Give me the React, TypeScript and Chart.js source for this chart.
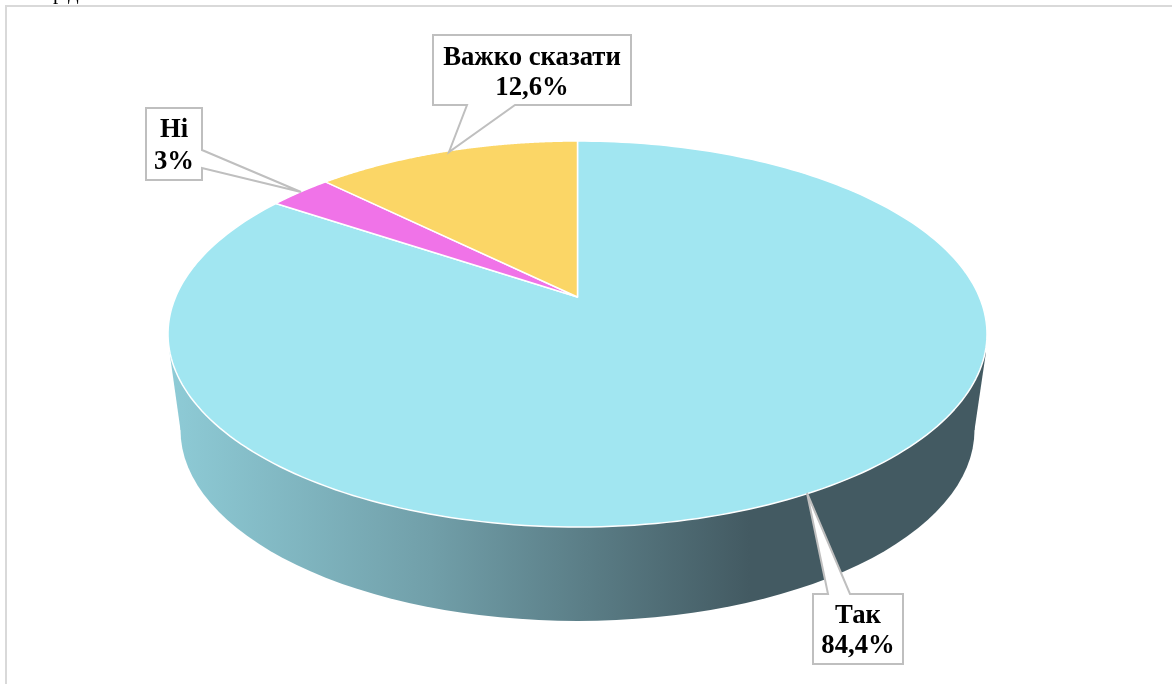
import React, { useEffect, useRef } from "react";
import { Chart, registerables } from "chart.js";

Chart.register(...registerables);

const categories = ["Так", "Ні", "Важко сказати"];
const values = [84.4, 3, 12.6];
const colors = ["#a1e6f1", "#f073e8", "#fbd666"];

// Perspective projection of the pie's plane onto the page
const APEX_X = 577.5;
const APEX_Y = 297;
const SCALE_X = 401.9;
const SCALE_Y = 185.9;
const TILT = -0.1917;

const project = (angle: number): [number, number] => {
  const u = Math.cos(angle);
  const v = Math.sin(angle);
  const w = 1 + TILT * v;
  return [APEX_X + (SCALE_X * u) / w, APEX_Y + (SCALE_Y * v) / w];
};

// Callouts, in the order of the categories
const callouts = [
  { box: [813, 594, 903, 664], side: "top", base: [828, 850], tip: [807, 493], lines: [623, 653] },
  { box: [146, 108, 202, 180], side: "right", base: [150, 168], tip: [301, 192], lines: [137, 169] },
  { box: [433, 35, 631, 105], side: "bottom", base: [467, 515], tip: [449, 152], lines: [65, 95] },
];

const pie3d = {
  id: "pie3d",
  beforeDraw(chart: any) {
    const { ctx } = chart;
    ctx.save();
    ctx.fillStyle = "#ffffff";
    ctx.fillRect(0, 0, 1172, 684);
    ctx.fillStyle = "#000000";
    ctx.font = "21px 'Liberation Serif'";
    ctx.textBaseline = "alphabetic";
    ctx.textAlign = "left";
    ctx.fillText("р", 53, -1);
    ctx.fillText("д", 68, -1);
    ctx.strokeStyle = "#d9d9d9";
    ctx.lineWidth = 2;
    ctx.beginPath();
    ctx.moveTo(6, 690);
    ctx.lineTo(6, 6);
    ctx.lineTo(1180, 6);
    ctx.stroke();
    ctx.restore();
  },
  beforeDatasetDraw(chart: any) {
    const { ctx } = chart;
    const arcs = chart.getDatasetMeta(0).data;

    // Side wall
    const wall = ctx.createLinearGradient(170, 0, 750, 0);
    wall.addColorStop(0, "#8ecbd6");
    wall.addColorStop(0.45, "#719fa9");
    wall.addColorStop(1, "#435a62");
    ctx.save();
    ctx.fillStyle = wall;
    ctx.beginPath();
    ctx.ellipse(577.5, 430, 397, 191, 0, 0, Math.PI * 2);
    ctx.fill();
    ctx.beginPath();
    ctx.moveTo(169.5, 352);
    ctx.lineTo(986, 352);
    ctx.lineTo(974.5, 430);
    ctx.lineTo(180.5, 430);
    ctx.closePath();
    ctx.fill();
    ctx.restore();

    // Top face, each slice taken from the chart's computed angles
    arcs.forEach((arc: any, i: number) => {
      ctx.save();
      ctx.beginPath();
      ctx.moveTo(APEX_X, APEX_Y);
      const steps = 240;
      for (let s = 0; s <= steps; s++) {
        const t = arc.startAngle + ((arc.endAngle - arc.startAngle) * s) / steps;
        const [x, y] = project(t);
        ctx.lineTo(x, y);
      }
      ctx.closePath();
      ctx.fillStyle = colors[i];
      ctx.fill();
      ctx.strokeStyle = "#ffffff";
      ctx.lineWidth = 1.5;
      ctx.lineJoin = "round";
      ctx.stroke();
      ctx.restore();
    });
    return false;
  },
  afterDatasetsDraw(chart: any) {
    const { ctx } = chart;
    callouts.forEach((c, i) => {
      const [x0, y0, x1, y1] = c.box;
      ctx.save();
      ctx.beginPath();
      ctx.moveTo(x0, y0);
      if (c.side === "top") {
        ctx.lineTo(c.base[0], y0);
        ctx.lineTo(c.tip[0], c.tip[1]);
        ctx.lineTo(c.base[1], y0);
      }
      ctx.lineTo(x1, y0);
      if (c.side === "right") {
        ctx.lineTo(x1, c.base[0]);
        ctx.lineTo(c.tip[0], c.tip[1]);
        ctx.lineTo(x1, c.base[1]);
      }
      ctx.lineTo(x1, y1);
      if (c.side === "bottom") {
        ctx.lineTo(c.base[1], y1);
        ctx.lineTo(c.tip[0], c.tip[1]);
        ctx.lineTo(c.base[0], y1);
      }
      ctx.lineTo(x0, y1);
      ctx.closePath();
      ctx.fillStyle = "#ffffff";
      ctx.fill();
      ctx.strokeStyle = "#bfbfbf";
      ctx.lineWidth = 2;
      ctx.stroke();

      ctx.fillStyle = "#000000";
      ctx.font = "bold 26.7px 'Liberation Serif'";
      ctx.textAlign = "center";
      ctx.textBaseline = "alphabetic";
      const cx = (x0 + x1) / 2;
      ctx.fillText(categories[i], cx, c.lines[0]);
      ctx.fillText(`${String(values[i]).replace(".", ",")}%`, cx, c.lines[1]);
      ctx.restore();
    });
  },
};

export default function App() {
  const ref = useRef<HTMLCanvasElement>(null);
  useEffect(() => {
    const chart = new Chart(ref.current!, {
      type: "pie",
      data: {
        labels: categories,
        datasets: [{ data: values, backgroundColor: colors, borderColor: "#ffffff" }],
      },
      options: {
        animation: false,
        responsive: false,
        plugins: { legend: { display: false }, tooltip: { enabled: false } },
      },
      plugins: [pie3d],
    } as any);
    return () => chart.destroy();
  }, []);
  return (
    <canvas
      ref={ref}
      width={1172}
      height={684}
      style={{ position: "fixed", left: 0, top: 0, width: 1172, height: 684 }}
    />
  );
}
